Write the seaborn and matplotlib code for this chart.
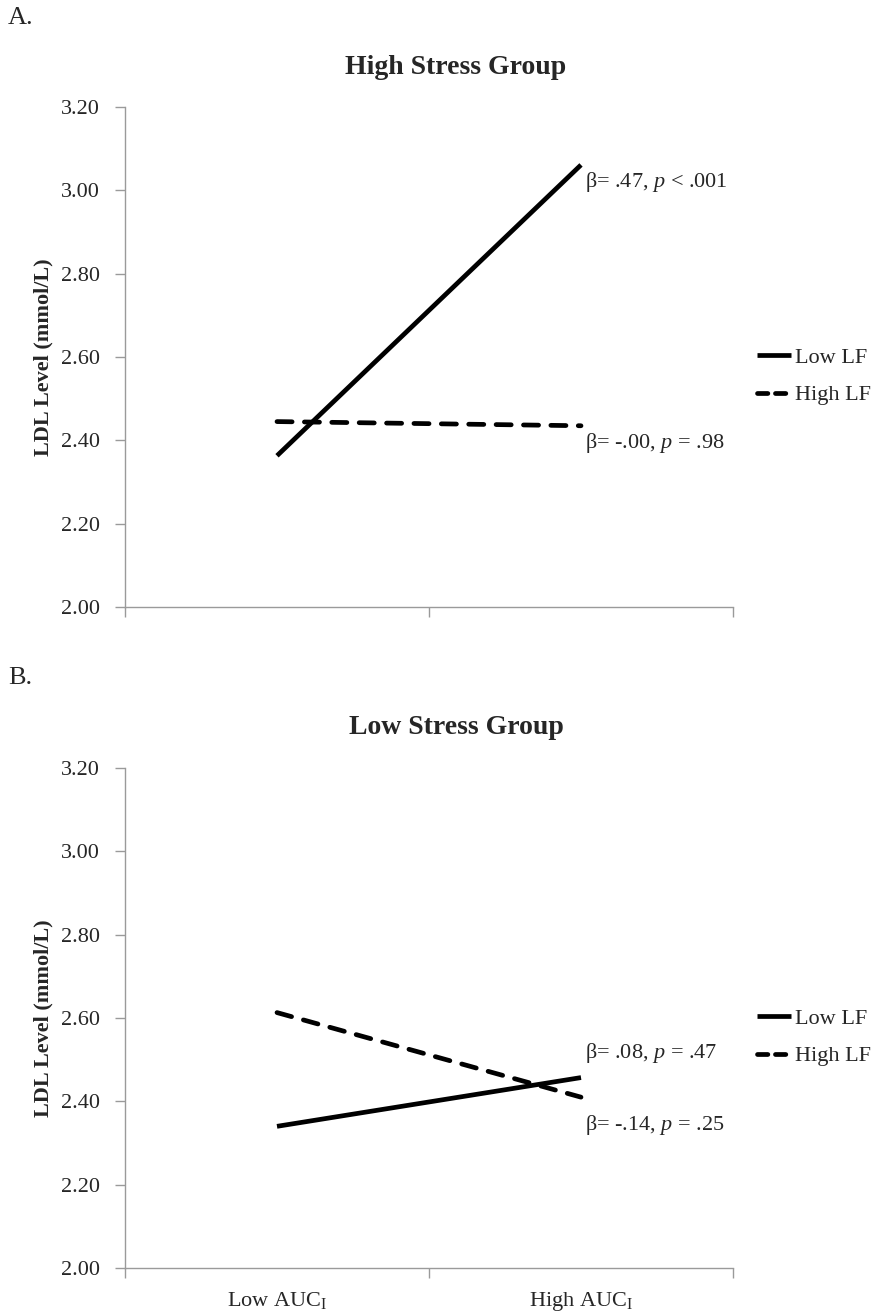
import matplotlib
matplotlib.use("Agg")
import matplotlib.pyplot as plt
from matplotlib.lines import Line2D
import seaborn as sns
import pandas as pd

# ---------------- data ----------------
auc_categories = ["Low AUC$_\\mathregular{I}$", "High AUC$_\\mathregular{I}$"]
lf_groups = ["Low LF", "High LF"]

high_stress_low_lf = [2.363, 3.061]
high_stress_high_lf = [2.445, 2.435]
low_stress_low_lf = [2.340, 2.457]
low_stress_high_lf = [2.613, 2.410]

panel_letters = ["A.", "B."]
panel_titles = ["High Stress Group", "Low Stress Group"]
annotations_high = ["β= .47, $p$ < .001", "β= -.00, $p$ = .98"]
annotations_low = ["β= .08, $p$ = .47", "β= -.14, $p$ = .25"]

y_ticks = [2.00, 2.20, 2.40, 2.60, 2.80, 3.00, 3.20]
y_label = "LDL Level (mmol/L)"

# ---------------- style ----------------
sns.set_theme(style="white")
plt.rcParams["font.family"] = ["Liberation Serif", "DejaVu Serif"]
plt.rcParams["mathtext.fontset"] = "custom"
plt.rcParams["mathtext.rm"] = "Liberation Serif"
plt.rcParams["mathtext.it"] = "Liberation Serif:italic"
plt.rcParams["mathtext.bf"] = "Liberation Serif:bold"

FS = 16
SPINE = "#9a9a9a"
LW = 3.4
DASH = (3.2, 2.6)

W, H = 882, 1316
fig = plt.figure(figsize=(W / 100, H / 100), dpi=100)


def make_df(low_vals, high_vals):
    rows = []
    for grp, vals in zip(lf_groups, [low_vals, high_vals]):
        for ci, v in enumerate(vals):
            rows.append({"pos": ci + 0.5, "auc": auc_categories[ci], "lf": grp, "ldl": v})
    return pd.DataFrame(rows)


panels = [
    (make_df(high_stress_low_lf, high_stress_high_lf), annotations_high,
     [3.019, 2.394], 107, 607, False),
    (make_df(low_stress_low_lf, low_stress_high_lf), annotations_low,
     [2.516, 2.344], 768, 1268, True),
]

left_px, right_px = 125, 733
for idx, (df, annots, annot_y, top_px, bot_px, show_x) in enumerate(panels):
    ax = fig.add_axes([left_px / W, 1 - bot_px / H, (right_px - left_px) / W, (bot_px - top_px) / H])
    sns.lineplot(data=df, x="pos", y="ldl", style="lf", style_order=lf_groups,
                 dashes={"Low LF": "", "High LF": DASH}, color="black",
                 linewidth=LW, legend=False, ax=ax)
    for ln in ax.get_lines():
        ln.set_dash_capstyle("round")
        ln.set_solid_capstyle("butt")

    ax.set_xlim(0, len(auc_categories))
    ax.set_ylim(y_ticks[0], y_ticks[-1])
    ax.set_yticks(y_ticks)
    ax.set_yticklabels([f"{t:.2f}" for t in y_ticks], fontsize=FS)

    ax.set_xticks(range(len(auc_categories) + 1))
    ax.set_xticklabels([])
    ax.set_xticks([i + 0.5 for i in range(len(auc_categories))], minor=True)
    if show_x:
        ax.set_xticklabels(auc_categories, minor=True, fontsize=FS)
    ax.tick_params(axis="x", which="minor", length=0, pad=16)
    ax.tick_params(axis="x", which="major", length=7, width=1.0, color=SPINE, direction="out")
    ax.tick_params(axis="y", which="major", length=7, width=1.0, color=SPINE, direction="out",
                   pad=11, left=True)
    ax.tick_params(axis="x", bottom=True, which="both")

    for s in ["top", "right"]:
        ax.spines[s].set_visible(False)
    for s in ["left", "bottom"]:
        ax.spines[s].set_color(SPINE)
        ax.spines[s].set_linewidth(1.0)
    ax.set_xlabel("")
    ax.set_ylabel(y_label, fontsize=FS, fontweight="bold")
    ax.yaxis.set_label_coords(-0.118, 0.5)
    ax.grid(False)

    for txt, yv in zip(annots, annot_y):
        ax.text(1.512, yv, txt, fontsize=FS, ha="left", va="center")

    handles = [
        Line2D([], [], color="black", lw=LW, solid_capstyle="butt"),
        Line2D([], [], color="black", lw=LW, dashes=(2.2, 1.6), dash_capstyle="round"),
    ]
    ax.legend(handles=handles, labels=lf_groups, loc="center left",
              bbox_to_anchor=(1.04, 0.461), frameon=False, fontsize=FS,
              handlelength=1.5, handletextpad=0.2, borderpad=0,
              borderaxespad=0, labelspacing=0.75)

    # panel letter and title
    fig.text(8 / W, 1 - (18 + 660 * idx) / H, panel_letters[idx], fontsize=19,
             ha="left", va="center")
    fig.text(456 / W, 1 - (68 + 660 * idx) / H, panel_titles[idx], fontsize=20,
             fontweight="bold", ha="center", va="center")

fig.savefig("out.png", dpi=100, facecolor="white")
